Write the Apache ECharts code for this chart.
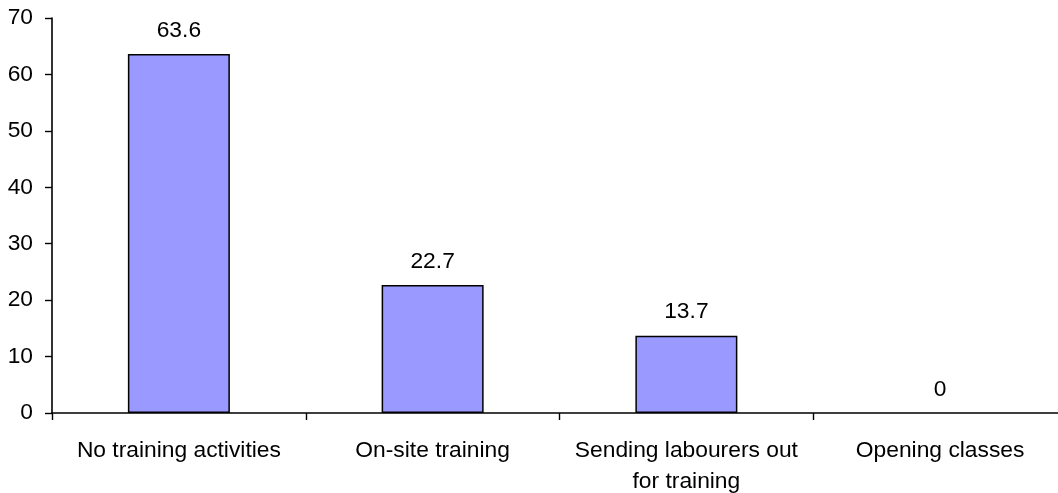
<!DOCTYPE html>
<html>
<head>
<meta charset="utf-8">
<script src="https://cdn.jsdelivr.net/npm/echarts@6/dist/echarts.min.js"></script>
<style>
html,body{margin:0;padding:0;background:#fff;}
#c{width:1058px;height:493px;}
</style>
</head>
<body>
<div id="c"></div>
<script>
const categories = ['No training activities', 'On-site training', 'Sending labourers out\nfor training', 'Opening classes'];
const values = [63.6, 22.7, 13.7, 0];
const yTicks = { min: 0, max: 70, interval: 10 };

const chart = echarts.init(document.getElementById('c'), null, { renderer: 'canvas' });
const font = 'Liberation Sans, Arial, sans-serif';
const fs = 22.8;
chart.setOption({
  animation: false,
  backgroundColor: '#ffffff',
  grid: { left: 52, top: 18, width: 1015, height: 395, containLabel: false, outerBoundsMode: 'none' },
  xAxis: {
    type: 'category',
    data: categories,
    z: 10,
    axisLine: { lineStyle: { color: '#000', width: 1.6 } },
    axisTick: { show: true, length: 7, alignWithLabel: false, lineStyle: { color: '#000', width: 1.4 } },
    axisLabel: { color: '#000', fontFamily: font, fontSize: fs, margin: 22, lineHeight: 31, interval: 0 },
    splitLine: { show: false }
  },
  yAxis: {
    type: 'value',
    min: yTicks.min, max: yTicks.max, interval: yTicks.interval,
    axisLine: { show: true, lineStyle: { color: '#000', width: 1.6 } },
    axisTick: { show: true, length: 7, lineStyle: { color: '#000', width: 1.4 } },
    axisLabel: { color: '#000', fontFamily: font, fontSize: fs, margin: 19 },
    splitLine: { show: false }
  },
  series: [{
    type: 'bar',
    data: values.map(v => v === 0 ? { value: v, itemStyle: { borderWidth: 0 } } : v),
    barWidth: 102,
    itemStyle: { color: '#9999FF', borderColor: '#000', borderWidth: 1.5 },
    label: { show: true, position: 'top', distance: 12, color: '#000', fontFamily: font, fontSize: fs }
  }]
});
</script>
</body>
</html>
